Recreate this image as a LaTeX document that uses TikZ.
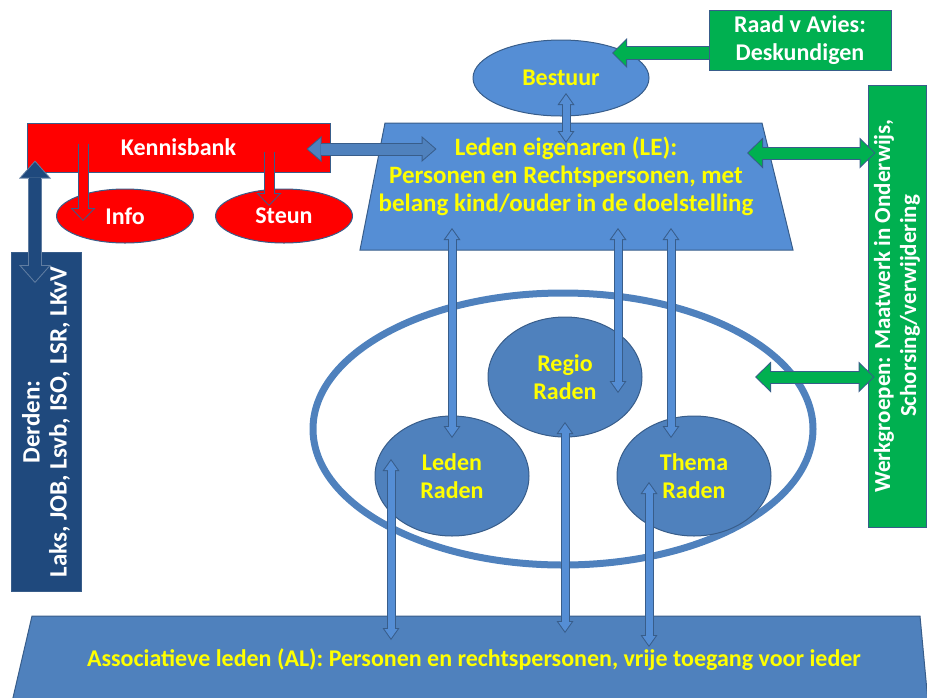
\documentclass[tikz,border=0pt]{standalone}
\usepackage{fontspec}
\setmainfont{Carlito}[BoldFont={Carlito Bold}]
\usetikzlibrary{shapes.geometric, arrows.meta, positioning}
\definecolor{lefill}{RGB}{85,142,213}
\definecolor{alfill}{RGB}{79,129,189}
\definecolor{edge}{RGB}{56,93,138}
\definecolor{grn}{RGB}{0,176,80}
\definecolor{navy}{RGB}{31,73,125}
\definecolor{txtyel}{RGB}{255,255,0}

\begin{document}
\begin{tikzpicture}[x=1pt, y=-1pt,
    lbl/.style={font=\fontsize{24}{28}\selectfont\bfseries, align=center, inner sep=0pt},
    gbox/.style={rectangle, draw=edge, line width=1pt, fill=grn, text=white, lbl},
    redbox/.style={rectangle, draw=edge, line width=1pt, fill=red, text=white, lbl},
    navybox/.style={rectangle, draw=edge, line width=1pt, fill=navy, text=white, lbl,
      font=\fontsize{25}{27}\selectfont\bfseries},
    redell/.style={ellipse, draw=edge, line width=1pt, fill=red, text=white, lbl,
      minimum width=137, minimum height=54},
    radell/.style={ellipse, draw=edge, line width=1pt, fill=alfill, text=txtyel, lbl,
      minimum width=154, minimum height=120},
    dblblk/.style n args={9}{draw=#2, line width=#4, shorten <=#9, shorten >=#9,
      arrows={Triangle[width=#7,length=#8,line width=0pt]-Triangle[width=#7,length=#8,line width=0pt]},
      preaction={draw=#1, line width=#3, shorten <=0pt, shorten >=0pt,
        arrows={Triangle[width=#5,length=#6,line width=0pt]-Triangle[width=#5,length=#6,line width=0pt]}}},
    oneblk/.style n args={9}{draw=#2, line width=#4, shorten >=#9,
      arrows={-Triangle[width=#7,length=#8,line width=0pt]},
      preaction={draw=#1, line width=#3, shorten >=0pt,
        arrows={-Triangle[width=#5,length=#6,line width=0pt]}}},
    thinarr/.style={dblblk={edge}{lefill}{9pt}{7pt}{17pt}{12pt}{13.1pt}{9.3pt}{1.7pt}},
    kbarr/.style={dblblk={edge}{alfill}{13pt}{11pt}{26pt}{15pt}{21.6pt}{12.5pt}{1.5pt}},
    grdbl/.style={dblblk={edge}{grn}{13pt}{11pt}{31pt}{16pt}{26.3pt}{13.6pt}{1.4pt}},
    grone/.style={oneblk={edge}{grn}{14pt}{12pt}{30pt}{15pt}{25.2pt}{12.6pt}{1.4pt}},
    redone/.style={oneblk={edge}{red}{11pt}{9pt}{25pt}{13pt}{20.3pt}{10.6pt}{1.4pt}},
    navydbl/.style={dblblk={edge!80!white}{navy}{14pt}{12pt}{32pt}{18pt}{27.5pt}{15.5pt}{1.5pt}}]

    \useasboundingbox (0,0) rectangle (927,697);

    % Raden
    \node[ellipse, draw=alfill, line width=7pt, minimum width=500, minimum height=272] (ring) at (563,429) {};
    \node[radell] (regio) at (565,377) {Regio\\Raden};
    \node[radell] (lr) at (452,476) {Leden\\Raden};
    \node[radell] (tr) at (694,476) {Thema\\Raden};

    % Leden eigenaren and associatieve leden
    \filldraw[fill=lefill, draw=edge, line width=1pt] (385,123) -- (762,123) -- (793,250) -- (360,250) -- cycle;
    \node[lbl, text=txtyel, font=\fontsize{25}{28}\selectfont\bfseries] (le) at (566,176) {Leden eigenaren (LE):\\Personen en Rechtspersonen, met\\belang kind/ouder in de doelstelling};
    \filldraw[fill=alfill, draw=edge, line width=1pt] (32,616) -- (920,616) -- (928,702) -- (12,702) -- cycle;
    \node[lbl, text=txtyel] (al) at (474,660) {Associatieve leden (AL): Personen en rechtspersonen, vrije toegang voor ieder};
    \coordinate (lebase) at (566,228);
    \coordinate (alin) at (474,640);

    % Top
    \node[ellipse, draw=edge, line width=1pt, fill=lefill, text=txtyel, lbl,
      minimum width=176, minimum height=76] (bestuur) at (561,78) {Bestuur};
    \node[gbox, minimum width=182, minimum height=60] (raad) at (800,40) {Raad v Avies:\\Deskundigen};
    \draw[grone] ([yshift=-13pt]raad.west) -- ([xshift=51pt,yshift=25pt]bestuur.center);

    % Kennisbank
    \node[redbox, minimum width=303, minimum height=49] (kb) at (178.5,147.5) {Kennisbank};
    \node[redell] (info) at (125,216) {Info};
    \node[redell] (steun) at (284,216) {Steun};

    % Side boxes
    \node[navybox, rotate=90, minimum width=339, minimum height=70] (derden) at (46,422) {Derden:\\Laks, JOB, Lsvb, ISO, LSR, LKvV};
    \node[gbox, rotate=90, minimum width=442, minimum height=58, font=\fontsize{23}{26}\selectfont\bfseries] (wg) at (897,306) {Werkgroepen: Maatwerk in Onderwijs,\\Schorsing/verwijdering};
    \coordinate (legr) at (747,153);
    \coordinate (ringgr) at (755,377);

    % Links
    \draw[thinarr] ([xshift=5pt,yshift=-15pt]bestuur.center) -- ([xshift=5pt,yshift=-65pt]bestuur.center);
    \draw[kbarr] ([xshift=-24pt,yshift=-1.5pt]kb.east) -- ([xshift=106pt,yshift=-1.5pt]kb.east);
    \draw[redone] ([xshift=-95.5pt,yshift=3.5pt]kb.center) -- ([xshift=-42pt,yshift=-5pt]info.center);
    \draw[redone] ([xshift=90.5pt,yshift=-4.5pt]kb.center) -- ([xshift=-15pt,yshift=10pt]steun.center);
    \draw[navydbl] ([xshift=-11pt,yshift=12pt]derden.center |- kb.south) -- ([xshift=-11pt,yshift=-31pt]derden.east);
    \draw[grdbl] (legr) -- ([xshift=8pt]legr -| wg.north);
    \draw[grdbl] (ringgr) -- ([xshift=7pt]ringgr -| wg.north);

    \draw[thinarr] (lr.center |- lebase) -- ([yshift=38pt]lr.center);
    \draw[thinarr] ([xshift=53pt]regio.center |- lebase) -- ([xshift=53pt,yshift=-16pt]regio.center);
    \draw[thinarr] ([xshift=-23pt]tr.center |- lebase) -- ([xshift=-23pt,yshift=38pt]tr.center);
    \draw[thinarr] ([xshift=-61pt,yshift=17pt]lr.center) -- ([xshift=-61pt]lr.center |- alin);
    \draw[thinarr] ([yshift=-45pt]regio.center) -- ([yshift=7pt]regio.center |- alin);
    \draw[thinarr] ([xshift=-45pt,yshift=-6pt]tr.center) -- ([xshift=-45pt,yshift=-7pt]tr.center |- alin);
\end{tikzpicture}
\end{document}
